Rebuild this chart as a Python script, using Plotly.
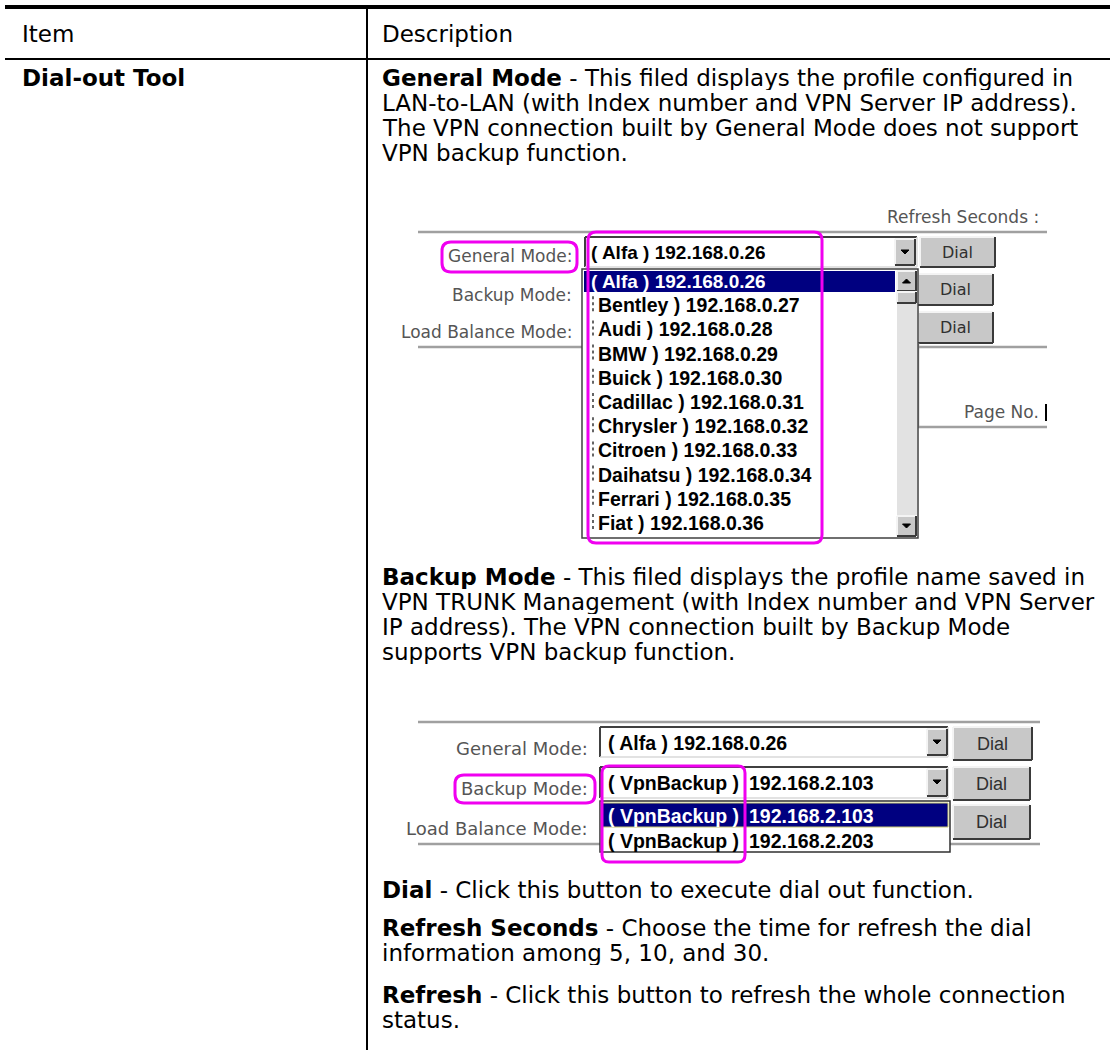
import plotly.graph_objects as go

W, H = 1120, 1050

# ---------------- data (text content) ----------------
header_labels = ["Item", "Description"]
item_names = ["Dial-out Tool"]

general_para = [
    ("General Mode", " - This filed displays the profile configured in"),
    ("", "LAN-to-LAN (with Index number and VPN Server IP address)."),
    ("", "The VPN connection built by General Mode does not support"),
    ("", "VPN backup function."),
]
backup_para = [
    ("Backup Mode", " - This filed displays the profile name saved in"),
    ("", "VPN TRUNK Management (with Index number and VPN Server"),
    ("", "IP address). The VPN connection built by Backup Mode"),
    ("", "supports VPN backup function."),
]
tail_paras = [
    [("Dial", " - Click this button to execute dial out function.")],
    [("Refresh Seconds", " - Choose the time for refresh the dial"),
     ("", "information among 5, 10, and 30.")],
    [("Refresh", " - Click this button to refresh the whole connection"),
     ("", "status.")],
]

mode_labels = ["General Mode:", "Backup Mode:", "Load Balance Mode:"]
button_label = "Dial"
refresh_label = "Refresh Seconds :"
page_label = "Page No."

general_names = ["Alfa", "Bentley", "Audi", "BMW", "Buick", "Cadillac",
                 "Chrysler", "Citroen", "Daihatsu", "Ferrari", "Fiat"]
general_ips = ["192.168.0.26", "192.168.0.27", "192.168.0.28", "192.168.0.29",
               "192.168.0.30", "192.168.0.31", "192.168.0.32", "192.168.0.33",
               "192.168.0.34", "192.168.0.35", "192.168.0.36"]
backup_names = ["VpnBackup", "VpnBackup"]
backup_ips = ["192.168.2.103", "192.168.2.203"]

# ---------------- styles ----------------
DESC_FONT = "DejaVu Sans, Verdana, sans-serif"
DESC_SIZE = 23
UI_LABEL_FONT = "DejaVu Sans, Verdana, sans-serif"
UI_BOLD_FONT = "Liberation Sans, Arial, sans-serif"
MAGENTA = "#F000F0"
NAVY = "#000080"
GRAYLINE = "#A0A0A0"
LABEL_GRAY = "#555555"

shapes = []
annotations = []


def line(x0, y0, x1, y1, color="black", width=1, dash=None):
    ln = dict(color=color, width=width)
    if dash:
        ln["dash"] = dash
    shapes.append(dict(type="line", xref="x", yref="y", x0=x0, y0=y0, x1=x1, y1=y1, line=ln))


def rect(x0, y0, x1, y1, fill, lcolor=None, lw=0):
    shapes.append(dict(type="rect", xref="x", yref="y", x0=x0, y0=y0, x1=x1, y1=y1,
                       fillcolor=fill, line=dict(color=lcolor or fill, width=lw)))


def rrect(x0, y0, x1, y1, r, color, width):
    p = (f"M {x0+r},{y0} L {x1-r},{y0} Q {x1},{y0} {x1},{y0+r} "
         f"L {x1},{y1-r} Q {x1},{y1} {x1-r},{y1} L {x0+r},{y1} "
         f"Q {x0},{y1} {x0},{y1-r} L {x0},{y0+r} Q {x0},{y0} {x0+r},{y0} Z")
    shapes.append(dict(type="path", xref="x", yref="y", path=p,
                       line=dict(color=color, width=width)))


def tri(cx, cy, up=False, s=4):
    if up:
        p = f"M {cx-s},{cy+s/2} L {cx+s},{cy+s/2} L {cx},{cy-s/2} Z"
    else:
        p = f"M {cx-s},{cy-s/2} L {cx+s},{cy-s/2} L {cx},{cy+s/2} Z"
    shapes.append(dict(type="path", xref="x", yref="y", path=p,
                       fillcolor="black", line=dict(color="black", width=1)))


def text(x, y, s, size, family, color="black", xanchor="left", height=None):
    ann = dict(x=x, y=y, xref="x", yref="y", text=s, showarrow=False,
               xanchor=xanchor, yanchor="middle", borderpad=0,
               font=dict(size=size, family=family, color=color))
    if height:
        ann["height"] = height
    annotations.append(ann)


def button(x0, y0, x1, y1, label=None, size=15, family=UI_LABEL_FONT):
    rect(x0, y0, x1, y1, "#C8C8C8")
    line(x0, y0, x1, y0, "#F4F4F4", 2)
    line(x0, y0, x0, y1, "#F4F4F4", 2)
    line(x0, y1, x1, y1, "#3A3A3A", 2)
    line(x1, y0, x1, y1, "#3A3A3A", 2)
    if label:
        text((x0 + x1) / 2, (y0 + y1) / 2, label, size, family, "#303030", "center")


def sunken(x0, y0, x1, y1):
    rect(x0, y0, x1, y1, "white")
    line(x0, y0, x1, y0, "#404040", 2)
    line(x0, y0, x0, y1, "#404040", 2)
    line(x0, y1, x1, y1, "#D8D8D8", 1.5)
    line(x1, y0, x1, y1, "#D8D8D8", 1.5)


def para(lines, y0, step=25, x=381, size=DESC_SIZE):
    for i, (b, rest) in enumerate(lines):
        s = (f"<b>{b}</b>" if b else "") + rest
        text(x, y0 + i * step, s, size, DESC_FONT, height=24)


# ---------------- table frame ----------------
line(5, 7, 1110, 7, "black", 4)
line(5, 59, 1110, 59, "black", 2)
line(367, 7, 367, 1050, "black", 2)

text(21, 34, header_labels[0], DESC_SIZE, DESC_FONT)
text(381, 34, header_labels[1], DESC_SIZE, DESC_FONT)
text(21, 78, f"<b>{item_names[0]}</b>", DESC_SIZE, DESC_FONT, height=24)

para(general_para, 78)
para(backup_para, 577)
para(tail_paras[0], 890)
para(tail_paras[1], 928)
para(tail_paras[2], 995)

# ---------------- screenshot 1 ----------------
text(1040, 217, refresh_label, 17, UI_LABEL_FONT, LABEL_GRAY, "right")
line(418, 232, 1047, 232, GRAYLINE, 2.5)
line(418, 347, 1047, 347, GRAYLINE, 2.5)

label_y1 = [256, 295, 332]
for lab, yy in zip(mode_labels, label_y1):
    text(573, yy, lab, 17, UI_LABEL_FONT, LABEL_GRAY, "right")

# dropdown
sunken(585, 237, 917, 267)
button(895, 239, 915, 265)
tri(905, 252)
text(590, 252, f"<b>( {general_names[0]} ) {general_ips[0]}</b>", 19, UI_BOLD_FONT, height=22)

# dial buttons
button(920, 237, 995, 267, button_label, 16)
button(918, 274, 993, 305, button_label, 16)
button(918, 312, 993, 343, button_label, 16)

# right-bottom box
line(918, 343, 918, 428, GRAYLINE, 2.5)
line(918, 427, 1047, 427, GRAYLINE, 2.5)
text(1040, 412, page_label, 17, UI_LABEL_FONT, LABEL_GRAY, "right")
line(1046, 404, 1046, 421, "black", 2)

# list box
rect(582, 269, 918, 538, "white", "#404040", 1.5)
rect(584, 271, 895, 292, NAVY)
row_y = 281
row_step = 24.2
for i, (nm, ip) in enumerate(zip(general_names, general_ips)):
    yy = row_y + i * row_step
    if i == 0:
        text(590, yy, f"<b>( {nm} ) {ip}</b>", 19, UI_BOLD_FONT, "white", height=22)
    else:
        text(597, yy, f"<b>{nm} ) {ip}</b>", 19.5, UI_BOLD_FONT, height=22)
        line(593, yy - 9, 593, yy + 9, "#333333", 1.5, "dot")
# scrollbar
rect(897, 292, 917, 515, "#E2E2E2")
button(897, 271, 916, 291)
tri(906.5, 281, up=True)
button(897, 292, 916, 303)
button(897, 516, 916, 536)
tri(906.5, 526)

# magenta highlights
rrect(588, 232, 822, 543, 8, MAGENTA, 3)
rrect(442, 242, 577, 272, 9, MAGENTA, 3)

# ---------------- screenshot 2 ----------------
line(418, 722, 1040, 722, GRAYLINE, 2.5)
line(418, 844, 1040, 844, GRAYLINE, 2.5)
label_y2 = [748, 788, 828]
for lab, yy in zip(mode_labels, label_y2):
    text(589, yy, lab, 18, UI_LABEL_FONT, LABEL_GRAY, "right")

sunken(600, 727, 948, 757)
button(927, 729, 947, 755)
tri(937, 742)
text(607, 742, f"<b>( {general_names[0]} ) {general_ips[0]}</b>", 19.5, UI_BOLD_FONT, height=23)

sunken(600, 767, 948, 798)
button(927, 769, 947, 796)
tri(937, 782)
text(607, 782, f"<b>( {backup_names[0]} )</b>", 19.5, UI_BOLD_FONT, height=23)
text(748, 782, f"<b>{backup_ips[0]}</b>", 19.5, UI_BOLD_FONT, height=23)

button(953, 727, 1032, 760, button_label, 18, UI_BOLD_FONT)
button(953, 767, 1030, 800, button_label, 18, UI_BOLD_FONT)
button(953, 805, 1030, 839, button_label, 18, UI_BOLD_FONT)

rect(600, 801, 950, 852, "white", "#303030", 1.5)
rect(602, 803, 948, 827, NAVY, "#C8C870", 1)
for i, (nm, ip) in enumerate(zip(backup_names, backup_ips)):
    yy = 815 + i * 25
    col = "white" if i == 0 else "black"
    text(607, yy, f"<b>( {nm} )</b>", 19.5, UI_BOLD_FONT, col, height=23)
    text(748, yy, f"<b>{ip}</b>", 19.5, UI_BOLD_FONT, col, height=23)

rrect(602, 766, 745, 862, 7, MAGENTA, 3)
rrect(455, 775, 595, 803, 9, MAGENTA, 3)

# ---------------- figure ----------------
fig = go.Figure()
fig.update_layout(
    width=W, height=H,
    margin=dict(l=0, r=0, t=0, b=0),
    paper_bgcolor="white", plot_bgcolor="white",
    xaxis=dict(range=[0, W], visible=False, fixedrange=True),
    yaxis=dict(range=[H, 0], visible=False, fixedrange=True),
    shapes=shapes, annotations=annotations,
    showlegend=False,
)
fig.write_html("out.html", config={"displayModeBar": False},
               post_script="document.body.style.margin='0';document.body.style.overflow='hidden';")
